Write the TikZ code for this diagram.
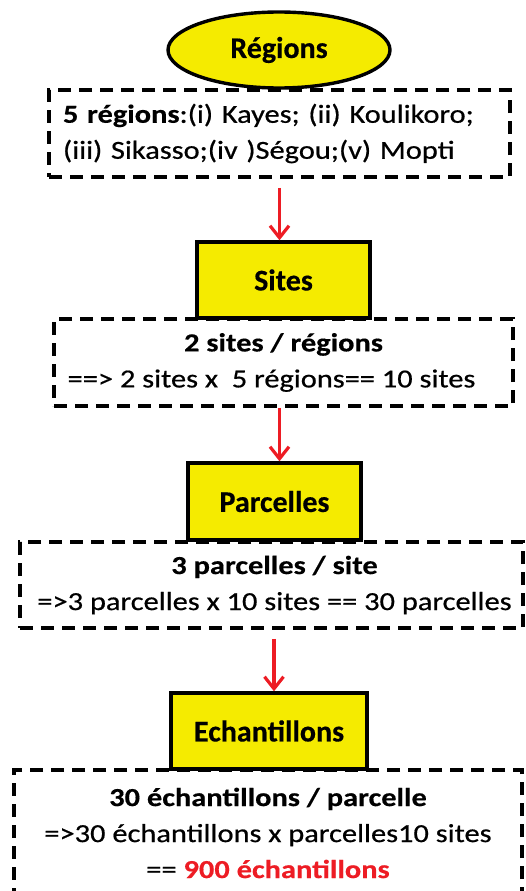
\documentclass[tikz,border=0pt]{standalone}
\usepackage{fontspec}
\setmainfont{Carlito}[FakeStretch=1.17,UprightFeatures={FakeBold=0.6},BoldFeatures={FakeBold=0.4}]
\newfontfamily\titlefont{Carlito}[BoldFeatures={FakeBold=0.4}]
\usetikzlibrary{shapes.geometric,arrows.meta}
\definecolor{titleyellow}{RGB}{245,235,0}
\definecolor{arrowred}{RGB}{237,28,36}
\tikzset{
  txt/.style={font=\fontsize{26}{36}\selectfont},
  titlebox/.style={draw=black,line width=3.4pt,fill=titleyellow,font=\titlefont\bfseries\fontsize{30}{36}\selectfont,inner sep=0pt},
  infobox/.style={txt,draw=black,line width=3.5pt,dash pattern=on 13pt off 8pt,align=center,inner sep=0pt},
  arr/.style={draw=arrowred,line width=3.2pt,-{Straight Barb[length=12pt,width=19pt,line width=3.2pt]}}
}
\begin{document}
\begin{tikzpicture}[x=1pt,y=-1pt]
\useasboundingbox (0,0) rectangle (525,891);
\clip (0,0) rectangle (525,891);
% information boxes
\node[infobox,minimum width=461pt,minimum height=87pt,text width=433pt,align=left] (d1) at (279.5,133.5)
  {\textbf{5 régions}:(i) Kayes; (ii) Koulikoro;\\(iii) Sikasso;(iv )Ségou;(v) Mopti};
\node[infobox,minimum width=459pt,minimum height=87pt] (d2) at (283.5,362.5)
  {\textbf{2 sites / régions}\\==> 2 sites x\ \ 5 régions== 10 sites\hspace*{24pt}};
\node[infobox,minimum width=503pt,minimum height=86pt] (d3) at (271.5,585)
  {\hspace*{6pt}\textbf{3 parcelles / site}\\\hspace*{6pt}=>3 parcelles x 10 sites == 30 parcelles};
\node[infobox,minimum width=508pt,minimum height=126pt] (d4) at (268,833)
  {\textbf{30 échantillons / parcelle}\\=>30 échantillons x parcelles10 sites\\== \textcolor{arrowred}{\textbf{900 échantillons}}};
% title shapes
\node[titlebox,ellipse,minimum width=222pt,minimum height=76pt] (reg) at (279,50) {Régions};
\node[titlebox,rectangle,minimum width=173pt,minimum height=76pt] (sites) at (283.5,280) {Sites};
\node[titlebox,rectangle,minimum width=173pt,minimum height=77pt] (parc) at (274.5,501.5) {Parcelles};
\node[titlebox,rectangle,minimum width=196pt,minimum height=76pt] (ech) at (269,731) {Echantillons};
% arrows
\draw[arr] ([yshift=-9pt]d1.south) -- (d1.south |- sites.north);
\draw[arr] ([xshift=-4pt]d2.south) -- ([xshift=-4pt]d2.south |- parc.north);
\draw[arr] ([xshift=2.5pt,yshift=-9pt]d3.south) -- ([xshift=2.5pt]d3.south |- ech.north);
\end{tikzpicture}
\end{document}
